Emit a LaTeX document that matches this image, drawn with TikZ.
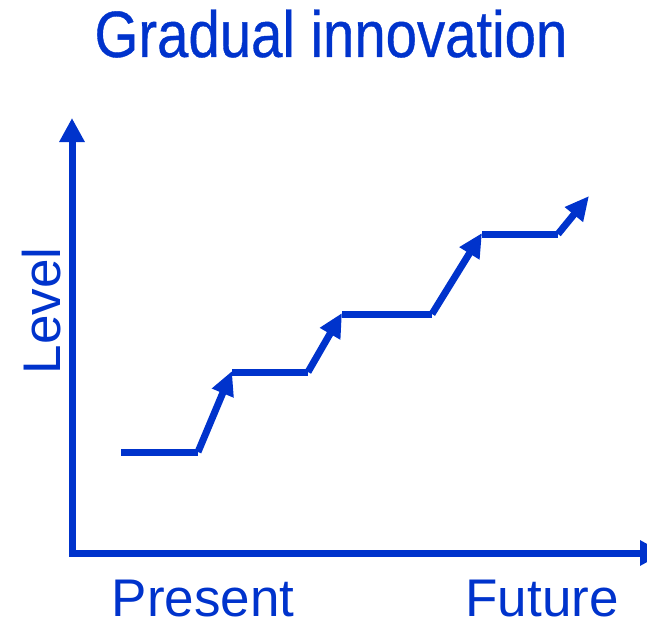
\documentclass[tikz,border=0pt]{standalone}
\usepackage{fontspec}
\setmainfont{Liberation Sans}
\newfontfamily\narrowfont[FakeStretch=0.86,FakeBold=0.6]{Liberation Sans}
\usetikzlibrary{arrows.meta}
\definecolor{innoblue}{RGB}{0,51,204}
\tikzset{axis/.style={draw=innoblue,line width=7pt,{Triangle[length=24pt,width=24pt]}-{Triangle[length=24pt,width=24pt]}}}
\tikzset{flat/.style={draw=innoblue,line width=7pt}}
\tikzset{rise/.style={draw=innoblue,line width=7pt,-{Triangle[length=24pt,width=22pt]}}}
\tikzset{label/.style={text=innoblue,anchor=base,inner sep=0pt,text depth=0pt,font=\fontsize{53}{60}\selectfont}}

\begin{document}
\begin{tikzpicture}[x=1pt,y=-1pt]
    \clip (0,0) rectangle (647,623);
    \node[label,font=\narrowfont\fontsize{65.5}{70}\selectfont] (title) at (331,57) {Gradual innovation};
    \coordinate (ytop) at (72,118);
    \coordinate (o) at (72,553);
    \coordinate (xend) at (664,553);
    \draw[axis] (ytop) -- (o) -- (xend);
    \node[label,rotate=90] (level) at (60,311) {Level};
    \node[label] (present) at (203,616) {Present};
    \node[label] (future) at (542,616) {Future};
    % steps
    \coordinate (s0) at (121,452);
    \coordinate (s1) at (198,452);
    \coordinate (t1) at (232,371);
    \coordinate (s2) at (308,372);
    \coordinate (t2) at (342,313);
    \coordinate (s3) at (432,314);
    \coordinate (t3) at (482,233);
    \coordinate (s4) at (558,234);
    \coordinate (t4) at (589,196);
    \draw[flat] (s0) -- (s1);
    \draw[rise] (s1) -- (t1);
    \draw[flat] (t1 |- s2) -- (s2);
    \draw[rise] (s2) -- (t2);
    \draw[flat] (t2 |- s3) -- (s3);
    \draw[rise] (s3) -- (t3);
    \draw[flat] (t3 |- s4) -- (s4);
    \draw[rise] (s4) -- (t4);
\end{tikzpicture}
\end{document}
